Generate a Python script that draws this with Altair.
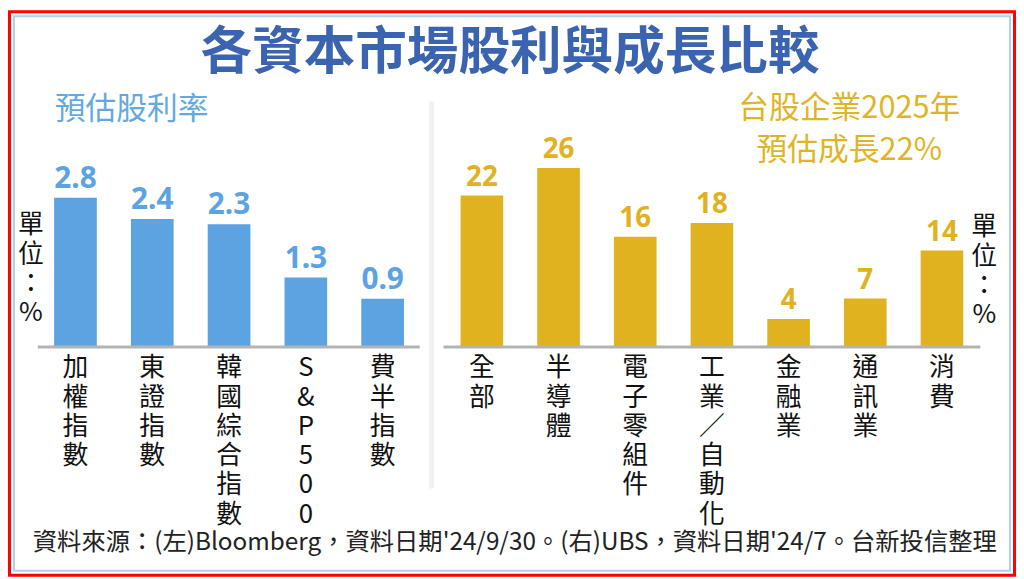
import altair as alt

# ---------------- data ----------------
left_cats = ["加權指數", "東證指數", "韓國綜合指數", "S&P500", "費半指數"]
left_vals = [2.8, 2.4, 2.3, 1.3, 0.9]
right_cats = ["全部", "半導體", "電子零組件", "工業／自動化", "金融業", "通訊業", "消費"]
right_vals = [22, 26, 16, 18, 4, 7, 14]

title_text = "各資本市場股利與成長比較"
left_sub = "預估股利率"
right_sub1 = "台股企業2025年"
right_sub2 = "預估成長22%"
unit_lines = ["單", "位", "：", "%"]
footer_text = "資料來源：(左)Bloomberg，資料日期'24/9/30。(右)UBS，資料日期'24/7。台新投信整理"

# ---------------- style ----------------
W, H = 1016, 571
CJK = "Noto Sans CJK TC"
NUM = "Noto Sans"
BLUE = "#5ba3e1"
BLUE_TITLE = "#3a64b0"
BLUE_SUB = "#63a9e0"
GOLD = "#e1b21f"
GOLD_SUB = "#e0b425"
AXIS = "#b3b3b3"

left_data = alt.Data(values=[{"cat": c, "val": v, "lines": list(c)} for c, v in zip(left_cats, left_vals)])
right_data = alt.Data(values=[{"cat": c, "val": v, "lines": list(c)} for c, v in zip(right_cats, right_vals)])
one = alt.Data(values=[{"k": 0}])

BASE_Y = 339

def panel(data, cats, xrange, ymax, yrange_top, color, vfont, fmt, rule_x, rule_x2):
    xs = alt.X("cat:N", sort=cats, axis=None,
               scale=alt.Scale(range=xrange, paddingInner=0.444, paddingOuter=0.222))
    ys = alt.Y("val:Q", axis=None,
               scale=alt.Scale(domain=[0, ymax], range=[BASE_Y, yrange_top], nice=False, zero=True))
    base = alt.Chart(data)
    bars = base.mark_bar(color=color).encode(x=xs, y=ys)
    vals = base.mark_text(font=NUM, fontWeight="bold", fontSize=vfont, color=color,
                          baseline="alphabetic", dy=-10).encode(
        x=xs, y=ys, text=alt.Text("val:Q", format=fmt))
    ticks = base.mark_text(font=CJK, fontSize=26, lineHeight=29.5, color="#111111",
                           baseline="top", align="center").encode(
        x=xs, y=alt.value(348), text="lines:N")
    rule = alt.Chart(one).mark_rule(color=AXIS, strokeWidth=3).encode(
        x=alt.value(rule_x), x2=alt.value(rule_x2), y=alt.value(BASE_Y + 0.5))
    return alt.layer(bars, rule, vals, ticks)

left = panel(left_data, left_cats, [29.3, 416.3], 3, BASE_Y - 53.57 * 3, BLUE, 30, ".1f", 30, 415)
right = panel(right_data, right_cats, [439.0, 980.0], 30, BASE_Y - 6.92 * 30, GOLD, 28, "d", 439, 980)

def txt(text, x, y, size, color, weight="normal", align="center", baseline="middle", font=CJK, lh=None):
    kw = dict(font=font, fontSize=size, color=color, fontWeight=weight, align=align, baseline=baseline)
    if lh is not None:
        kw["lineHeight"] = lh
    return alt.Chart(one).mark_text(**kw).encode(
        x=alt.value(x), y=alt.value(y), text=alt.value(text))

frame_red = alt.Chart(one).mark_rect(fill="white", stroke="#ff0000", strokeWidth=3).encode(
    x=alt.value(1.5), x2=alt.value(W - 1.5), y=alt.value(1.5), y2=alt.value(H - 1.5))
frame_blue = alt.Chart(one).mark_rect(fill="white", stroke="#a9d3ec", strokeWidth=2).encode(
    x=alt.value(6), x2=alt.value(W - 6), y=alt.value(6), y2=alt.value(H - 6))
sep = alt.Chart(one).mark_rule(color="#f0f0f0", strokeWidth=5).encode(
    x=alt.value(427), y=alt.value(92), y2=alt.value(482))

title = txt(title_text, 506, 43, 52, BLUE_TITLE, weight="bold")
sub_l = txt(left_sub, 47, 100.5, 31, BLUE_SUB, align="left")
sub_r1 = txt(right_sub1, 848, 99.5, 31, GOLD_SUB)
sub_r2 = txt(right_sub2, 848, 142, 31, GOLD_SUB)
unit_l = txt(unit_lines, 23, 204, 26, "#111111", baseline="top", lh=29.5)
unit_r = txt(unit_lines, 984, 206, 26, "#111111", baseline="top", lh=29.5)
footer = txt(footer_text, 25, 537, 24.5, "#222222", align="left")

chart = alt.layer(
    frame_red, frame_blue, sep, title, sub_l, sub_r1, sub_r2, unit_l, unit_r, footer, left, right
).resolve_scale(x="independent", y="independent").properties(
    width=W, height=H, padding=0,
    autosize=alt.AutoSizeParams(type="none"),
    background="white",
).configure_view(stroke=None)

chart.save("out.html", embed_options={"renderer": "svg", "actions": False})
